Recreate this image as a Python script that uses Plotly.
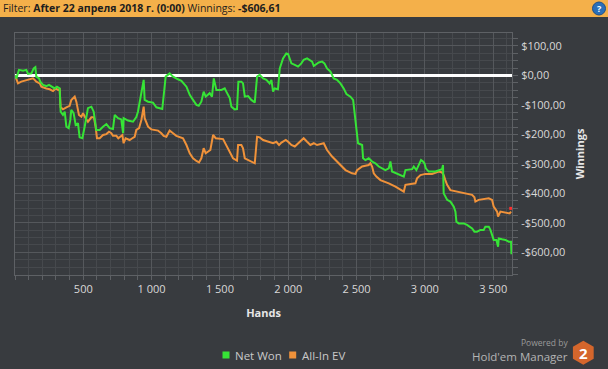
import math
import plotly.graph_objects as go

# ---------------- data ----------------
hands_net = [0, 10, 29, 59, 83, 95, 120, 137, 149, 156,
             176, 185, 205, 229, 249, 266, 290, 307, 327, 334,
             351, 364, 376, 393, 405, 412, 429, 444, 461, 473,
             493, 510, 534, 559, 576, 595, 620, 644, 669, 693,
             717, 730, 754, 778, 791, 795, 827, 864, 888, 900,
             925, 942, 949, 974, 1010, 1035, 1078, 1088, 1103, 1132,
             1157, 1193, 1218, 1255, 1279, 1303, 1328, 1345, 1364, 1381,
             1396, 1425, 1442, 1455, 1474, 1511, 1535, 1547, 1572, 1584,
             1608, 1625, 1635, 1657, 1669, 1682, 1706, 1730, 1755, 1772,
             1791, 1816, 1840, 1864, 1877, 1889, 1901, 1925, 1938, 1962,
             1986, 1999, 2011, 2023, 2048, 2072, 2096, 2113, 2138, 2157,
             2175, 2187, 2199, 2223, 2248, 2265, 2284, 2309, 2333, 2357,
             2382, 2406, 2426, 2455, 2475, 2484, 2499, 2511, 2541, 2548,
             2565, 2589, 2614, 2638, 2663, 2711, 2736, 2748, 2760, 2797,
             2846, 2858, 2907, 2919, 2938, 2955, 2972, 2987, 2997, 3007,
             3028, 3077, 3102, 3126, 3133, 3138, 3163, 3187, 3212, 3224,
             3231, 3248, 3285, 3309, 3346, 3363, 3382, 3407, 3431, 3443,
             3468, 3480, 3504, 3524, 3536, 3541, 3565, 3590, 3614, 3631,
             3634]
net_won = [0, -10, 19, 16, 19, 5, 7, 24, 28, -4,
           -10, -21, -32, -36, -32, -38, -44, -38, -44, -123,
           -134, -123, -174, -179, -151, -117, -128, -168, -162, -210,
           -213, -174, -111, -106, -123, -185, -185, -174, -165, -179,
           -182, -134, -145, -149, -196, -145, -153, -157, -141, -123,
           -60, -15, -83, -89, -92, -108, -114, -60, -4, 7,
           -4, -13, -18, -38, -66, -83, -100, -103, -89, -55,
           -72, -60, -72, -10, -49, -49, -44, -55, -77, -106,
           -115, -114, -21, -21, -27, -72, -70, -83, -92, -4,
           2, -10, -15, -27, -15, -55, -44, -47, 24, 58,
           75, 73, 58, 41, 36, 30, 41, 53, 58, 53,
           47, 32, 36, 44, 47, 41, 24, 13, -10, -15,
           -27, -44, -63, -72, -83, -123, -174, -230, -236, -281,
           -287, -281, -292, -298, -309, -321, -315, -292, -326, -334,
           -343, -321, -318, -309, -321, -304, -287, -292, -298, -315,
           -326, -326, -321, -318, -304, -400, -422, -428, -445, -462,
           -496, -502, -502, -507, -519, -530, -530, -524, -524, -513,
           -513, -524, -558, -558, -581, -553, -556, -558, -564, -564,
           -606.61]

hands_ev = [0, 22, 46, 71, 95, 112, 132, 144, 156, 181,
            193, 229, 254, 278, 298, 315, 327, 334, 351, 376,
            400, 412, 437, 449, 456, 468, 486, 498, 517, 534,
            559, 578, 590, 600, 620, 644, 669, 688, 705, 717,
            742, 756, 786, 795, 810, 839, 859, 876, 888, 908,
            925, 942, 949, 974, 998, 1047, 1071, 1088, 1108, 1132,
            1157, 1181, 1230, 1255, 1279, 1303, 1328, 1347, 1364, 1381,
            1396, 1430, 1450, 1469, 1523, 1547, 1572, 1596, 1625, 1633,
            1657, 1669, 1682, 1730, 1755, 1772, 1791, 1816, 1864, 1889,
            1913, 1933, 1950, 1982, 1999, 2023, 2048, 2096, 2113, 2138,
            2162, 2187, 2211, 2260, 2272, 2284, 2321, 2345, 2370, 2394,
            2419, 2467, 2492, 2504, 2541, 2589, 2601, 2614, 2626, 2645,
            2675, 2736, 2785, 2846, 2858, 2931, 2943, 2968, 3004, 3053,
            3102, 3126, 3138, 3150, 3163, 3187, 3236, 3309, 3346, 3363,
            3370, 3394, 3468, 3492, 3504, 3529, 3536, 3553, 3602, 3621,
            3631]
all_in_ev = [0, -27, -21, -18, -15, -13, -10, -15, -21, -27,
             -38, -44, -47, -53, -44, -49, -47, -108, -115, -108,
             -103, -83, -72, -89, -106, -134, -140, -128, -145, -157,
             -142, -142, -174, -213, -213, -202, -199, -191, -196, -205,
             -205, -213, -202, -230, -213, -219, -213, -208, -185, -179,
             -151, -106, -145, -174, -183, -187, -196, -205, -208, -187,
             -196, -205, -213, -236, -264, -281, -290, -295, -281, -247,
             -264, -253, -202, -213, -216, -236, -258, -281, -289, -236,
             -236, -247, -281, -293, -298, -208, -210, -219, -225, -230,
             -225, -236, -228, -219, -225, -236, -241, -222, -213, -225,
             -236, -230, -236, -230, -241, -253, -275, -287, -298, -309,
             -321, -332, -334, -321, -309, -304, -298, -309, -332, -343,
             -355, -366, -377, -394, -371, -366, -349, -338, -334, -334,
             -326, -329, -338, -355, -371, -389, -394, -400, -405, -413,
             -428, -422, -417, -422, -445, -462, -479, -462, -466, -468,
             -462]

ev_end_hands = [3629]
ev_end_value = [-451]

x_ticks = [500, 1000, 1500, 2000, 2500, 3000, 3500]
x_tick_labels = ["500", "1 000", "1 500", "2 000", "2 500", "3 000", "3 500"]
y_ticks = [100, 0, -100, -200, -300, -400, -500, -600]
y_tick_labels = ["$100,00", "$0,00", "-$100,00", "-$200,00", "-$300,00",
                 "-$400,00", "-$500,00", "-$600,00"]

header_filter = "After 22 апреля 2018 г. (0:00)"
header_winnings = "-$606,61"

# ---------------- layout helpers ----------------
W, H = 608, 369
ML, MR, MT, MB = 15, 96, 33, 94
PW, PH = W - ML - MR, H - MT - MB


def fx(px):
    return (px - ML) / PW


def fy(py):
    return (H - MB - py) / PH


BG = "#383b3f"
GRID_MINOR = "#46494d"
GRID_MAJOR = "#55585c"
FRAME = "#5e6165"
FONT = "Open Sans"
GREEN = "#36e436"
ORANGE = "#f0923a"

fig = go.Figure()
fig.add_trace(go.Scatter(x=hands_ev, y=all_in_ev, mode="lines", name="All-In EV",
                         line=dict(color=ORANGE, width=2), showlegend=False,
                         hoverinfo="skip"))
fig.add_trace(go.Scatter(x=hands_net, y=net_won, mode="lines", name="Net Won",
                         line=dict(color=GREEN, width=2), showlegend=False,
                         hoverinfo="skip"))
fig.add_trace(go.Scatter(x=ev_end_hands, y=ev_end_value, mode="markers",
                         marker=dict(color="#ff3030", size=3, symbol="square"),
                         showlegend=False, hoverinfo="skip"))

shapes = []
annotations = []

# header bar
shapes.append(dict(type="rect", xref="paper", yref="paper", layer="below",
                   x0=fx(0), x1=fx(W), y0=fy(17), y1=fy(0),
                   fillcolor="#f4b04a", line=dict(width=0)))
annotations.append(dict(xref="paper", yref="paper", x=fx(1), y=fy(8.5),
                        xanchor="left", yanchor="middle", showarrow=False,
                        text=f"Filter: <b>{header_filter}</b> Winnings: <b>{header_winnings}</b>",
                        font=dict(family=FONT, size=10.5, color="#1e1e1e")))
# help icon
shapes.append(dict(type="circle", xref="paper", yref="paper",
                   x0=fx(592.5), x1=fx(605.5), y0=fy(15), y1=fy(2),
                   fillcolor="#2b6fb8", line=dict(color="#1d4f88", width=1)))
annotations.append(dict(xref="paper", yref="paper", x=fx(599), y=fy(8.5),
                        xanchor="center", yanchor="middle", showarrow=False,
                        text="<b>?</b>", font=dict(family=FONT, size=9, color="white")))

# legend (squares + labels)
legend_items = [("Net Won", GREEN, 226, 235), ("All-In EV", ORANGE, 292.7, 301.7)]
for label, col, cx, tx in legend_items:
    shapes.append(dict(type="rect", xref="paper", yref="paper",
                       x0=fx(cx - 3.5), x1=fx(cx + 3.5), y0=fy(358.5), y1=fy(351.5),
                       fillcolor=col, line=dict(width=0)))
    annotations.append(dict(xref="paper", yref="paper", x=fx(tx - 2), y=fy(355),
                            xanchor="left", yanchor="middle", showarrow=False,
                            text=label, font=dict(family=FONT, size=11.5, color="#c9c9c9")))

# logo
annotations.append(dict(xref="paper", yref="paper", x=fx(568.5), y=fy(342.5),
                        xanchor="right", yanchor="middle", showarrow=False, borderpad=0,
                        text="Powered by", font=dict(family=FONT, size=8.5, color="#9a9a9a")))
annotations.append(dict(xref="paper", yref="paper", x=fx(568.5), y=fy(356),
                        xanchor="right", yanchor="middle", showarrow=False, borderpad=0,
                        text="Hold'em Manager", font=dict(family=FONT, size=11.5, color="#b4b4b4")))
hcx, hcy, hr = 583.3, 352.7, 12
pts = []
for k in range(6):
    a = math.radians(90 + 60 * k)
    pts.append((fx(hcx + hr * math.cos(a)), fy(hcy - hr * math.sin(a))))
path = "M " + " L ".join(f"{p[0]:.5f},{p[1]:.5f}" for p in pts) + " Z"
shapes.append(dict(type="path", xref="paper", yref="paper", path=path,
                   fillcolor="#d4662c", line=dict(width=0)))
annotations.append(dict(xref="paper", yref="paper", x=fx(hcx), y=fy(hcy),
                        xanchor="center", yanchor="middle", showarrow=False,
                        text="<b>2</b>", font=dict(family=FONT, size=15, color="white")))

tickfont = dict(family=FONT, size=11, color="#d8d8d8")
titlefont = dict(family=FONT, size=11, color="#e6e6e6")

fig.update_layout(
    width=W, height=H,
    margin=dict(l=ML, r=MR, t=MT, b=MB, pad=0),
    paper_bgcolor=BG, plot_bgcolor=BG,
    showlegend=False,
    shapes=shapes, annotations=annotations,
    xaxis=dict(range=[0, 3638], tickmode="array", tickvals=x_ticks, ticktext=x_tick_labels,
               showgrid=True, gridcolor=GRID_MAJOR, gridwidth=1,
               ticks="outside", ticklen=4, tickcolor=FRAME, tickwidth=1,
               showline=True, linecolor=FRAME, linewidth=1, mirror=True,
               zeroline=False, tickfont=tickfont,
               title=dict(text="<b>Hands</b>", font=titlefont, standoff=14),
               minor=dict(dtick=100, tick0=0, showgrid=True, gridcolor=GRID_MINOR,
                          ticks="outside", ticklen=4, tickcolor=FRAME),
               fixedrange=True),
    yaxis=dict(side="right", range=[-677, 144], tickmode="array", tickvals=y_ticks,
               ticktext=y_tick_labels,
               showgrid=True, gridcolor=GRID_MAJOR, gridwidth=1,
               ticks="outside", ticklen=5, tickcolor=FRAME, tickwidth=1,
               showline=True, linecolor=FRAME, linewidth=1, mirror=True,
               zeroline=True, zerolinecolor="#ffffff", zerolinewidth=2.5,
               tickfont=tickfont, ticklabelstandoff=1,
               title=dict(text="<b>Winnings</b>", font=titlefont, standoff=11),
               minor=dict(dtick=25, tick0=0, showgrid=True, gridcolor=GRID_MINOR,
                          ticks="outside", ticklen=5, tickcolor=FRAME),
               fixedrange=True),
)

fig.write_html("out.html", config={"displayModeBar": False},
               post_script="document.body.style.margin='0';document.body.style.overflow='hidden';")
